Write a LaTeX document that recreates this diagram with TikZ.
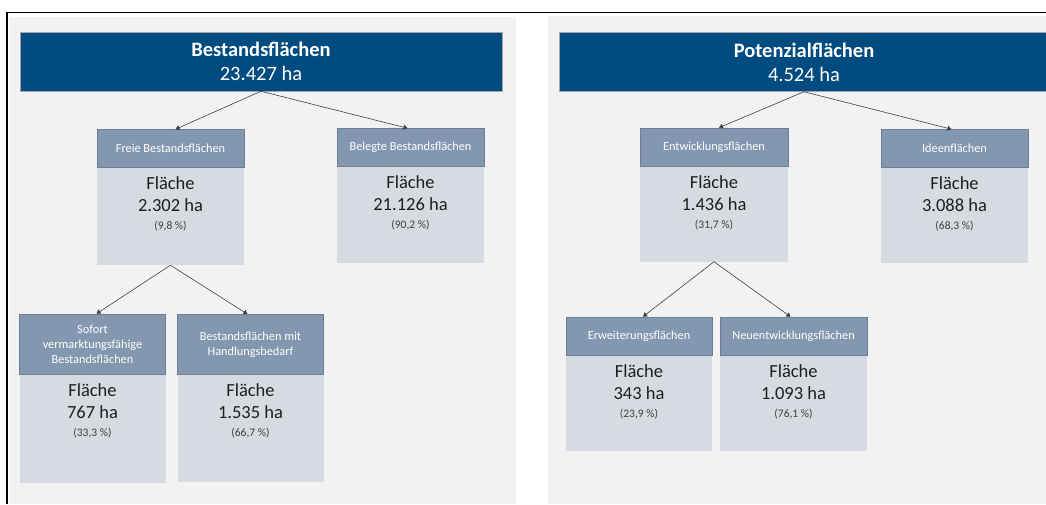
\documentclass[tikz,border=0pt]{standalone}
\usepackage{fontspec}
\setmainfont{Carlito}
\usetikzlibrary{arrows.meta}

\definecolor{hdblue}{RGB}{0,76,128}
\definecolor{catblue}{RGB}{132,151,176}
\definecolor{catedge}{RGB}{110,126,148}
\definecolor{bodygray}{RGB}{214,218,225}
\definecolor{panelgray}{RGB}{242,242,242}
\definecolor{arrgray}{RGB}{64,64,64}

\tikzset{
  topbox/.style={fill=hdblue, draw=gray!70, line width=0.5pt, text=white, minimum height=59,
    align=center, inner sep=0pt, font=\fontsize{20.5}{24}\selectfont},
  catbox/.style={fill=catblue, draw=catedge, line width=0.6pt, text=white, minimum height=38,
    minimum width=147, align=center, inner sep=0pt, font=\fontsize{12.3}{15}\selectfont},
  bodybox/.style={fill=bodygray, minimum width=147, anchor=north, inner sep=0pt},
  valtext/.style={anchor=north, align=center, inner sep=0pt, text=black!88,
    font=\fontsize{18.5}{22}\selectfont},
  arr/.style={draw=arrgray, line width=0.6pt, -{Triangle[length=4pt,width=5pt]}}
}
\newcommand{\pct}[1]{{\fontsize{11.5}{12}\selectfont\color{black!75}(#1)}}

\begin{document}
\begin{tikzpicture}[x=1pt,y=-1pt]
\useasboundingbox (0,0) rectangle (1046,504);
% panels and frame
\fill[panelgray] (10,17) rectangle (516,504);
\fill[panelgray] (548,16) rectangle (1046,504);
\draw[line width=1.6pt] (7,504) -- (7,12.5) -- (1046,12.5);

% left tree
\node[topbox, minimum width=482] (bestand) at (261,61.5) {\textbf{Bestandsflächen}\\23.427 ha};

\node[catbox] (freiH) at (170.5,148.5) {Freie Bestandsflächen};
\node[bodybox, minimum height=97] (freiB) at (freiH.south) {};
\node[valtext] (freiT) at ([yshift=-9pt]freiB.north) {Fläche\\2.302 ha\\[-4pt]\pct{9,8 \%}};

\node[catbox] (belegtH) at (410.5,147.5) {Belegte Bestandsflächen};
\node[bodybox, minimum height=96] (belegtB) at (belegtH.south) {};
\node[valtext] (belegtT) at ([yshift=-9pt]belegtB.north) {Fläche\\21.126 ha\\[-4pt]\pct{90,2 \%}};

\node[catbox, minimum height=60, minimum width=146] (sofortH) at (92.5,344) {Sofort\\vermarktungsfähige\\Bestandsflächen};
\node[bodybox, minimum height=108, minimum width=146] (sofortB) at (sofortH.south) {};
\node[valtext] (sofortT) at ([yshift=-9pt]sofortB.north) {Fläche\\767 ha\\[-4pt]\pct{33,3 \%}};

\node[catbox, minimum height=60, minimum width=146] (handH) at (250.5,344.5) {Bestandsflächen mit\\Handlungsbedarf};
\node[bodybox, minimum height=107, minimum width=146] (handB) at (handH.south) {};
\node[valtext] (handT) at ([yshift=-9pt]handB.north) {Fläche\\1.535 ha\\[-4pt]\pct{66,7 \%}};

\draw[arr] (bestand.south) -- ([xshift=5pt]freiH.north);
\draw[arr] (bestand.south) -- ([xshift=-3pt]belegtH.north);
\draw[arr] (freiB.south) -- ([xshift=4pt]sofortH.north);
\draw[arr] (freiB.south) -- ([xshift=-3pt]handH.north);

% right tree
\node[topbox, minimum width=490] (potenzial) at (804,62) {\textbf{Potenzialflächen}\\4.524 ha};

\node[catbox, minimum width=148] (entwH) at (714,147) {Entwicklungsflächen};
\node[bodybox, minimum height=95, minimum width=148] (entwB) at (entwH.south) {};
\node[valtext] (entwT) at ([yshift=-9pt]entwB.north) {Fläche\\1.436 ha\\[-4pt]\pct{31,7 \%}};

\node[catbox] (ideenH) at (954.5,148.5) {Ideenflächen};
\node[bodybox, minimum height=95] (ideenB) at (ideenH.south) {};
\node[valtext] (ideenT) at ([yshift=-9pt]ideenB.north) {Fläche\\3.088 ha\\[-4pt]\pct{68,3 \%}};

\node[catbox, minimum width=146] (erwH) at (639,336) {Erweiterungsflächen};
\node[bodybox, minimum height=95, minimum width=146] (erwB) at (erwH.south) {};
\node[valtext] (erwT) at ([yshift=-9pt]erwB.north) {Fläche\\343 ha\\[-4pt]\pct{23,9 \%}};

\node[catbox] (neuH) at (793.5,336) {Neuentwicklungsflächen};
\node[bodybox, minimum height=95] (neuB) at (neuH.south) {};
\node[valtext] (neuT) at ([yshift=-9pt]neuB.north) {Fläche\\1.093 ha\\[-4pt]\pct{76,1 \%}};

\draw[arr] (potenzial.south) -- ([xshift=5pt]entwH.north);
\draw[arr] (potenzial.south) -- ([xshift=-3pt]ideenH.north);
\draw[arr] (entwB.south) -- ([xshift=4pt]erwH.north);
\draw[arr] (entwB.south) -- ([xshift=-3pt]neuH.north);
\end{tikzpicture}
\end{document}
